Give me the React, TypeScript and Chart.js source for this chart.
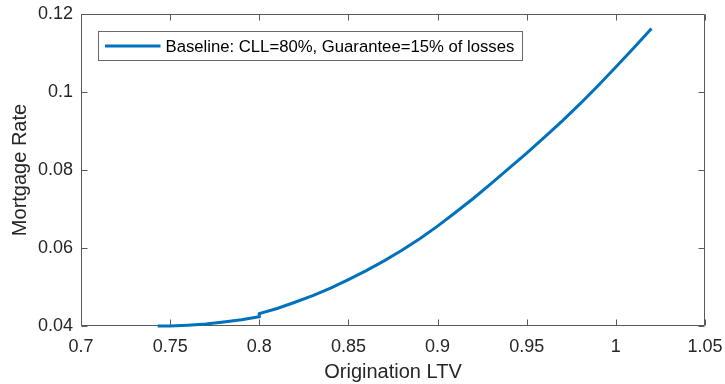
import React, { useEffect, useRef } from 'react';
import { Chart, registerables } from 'chart.js';

Chart.register(...registerables);

const seriesLabel = 'Baseline: CLL=80%, Guarantee=15% of losses';
const ltv = [0.743, 0.75, 0.76, 0.77, 0.78, 0.79, 0.8, 0.8, 0.81, 0.82, 0.83, 0.84, 0.85, 0.86, 0.87, 0.88, 0.89, 0.9, 0.91, 0.92, 0.93, 0.94, 0.95, 0.96, 0.97, 0.98, 0.99, 1.0, 1.01, 1.02];
const rate = [0.04, 0.04, 0.0402, 0.0405, 0.041, 0.0416, 0.0424, 0.0432, 0.0445, 0.0461, 0.0478, 0.0497, 0.0519, 0.0542, 0.0567, 0.0594, 0.0624, 0.0656, 0.0691, 0.0727, 0.0765, 0.0804, 0.0843, 0.0884, 0.0926, 0.097, 0.1016, 0.1064, 0.1113, 0.1163];
const xTicks = [0.7, 0.75, 0.8, 0.85, 0.9, 0.95, 1, 1.05];
const xTickLabels = ['0.7', '0.75', '0.8', '0.85', '0.9', '0.95', '1', '1.05'];
const yTicks = [0.04, 0.06, 0.08, 0.1, 0.12];
const yTickLabels = ['0.04', '0.06', '0.08', '0.1', '0.12'];
const xTitle = 'Origination LTV';
const yTitle = 'Mortgage Rate';

const FONT = "'Liberation Sans', Arial, Helvetica, sans-serif";
const AXIS_COLOR = '#262626';
const FRAME_COLOR = '#5a5a5a';
const LINE_COLOR = '#0072BD';

const framePlugin = {
  id: 'matlabFrame',
  beforeDatasetsDraw(chart: any) {
    const { ctx, chartArea } = chart;
    const { left, right, top, bottom } = chartArea;
    const xs = chart.scales.x;
    const ys = chart.scales.y;
    const tl = 6;
    ctx.save();
    ctx.strokeStyle = FRAME_COLOR;
    ctx.lineWidth = 1;
    ctx.beginPath();
    const L = Math.round(left) + 0.5;
    const R = Math.round(right) - 0.5;
    const T = Math.round(top) + 0.5;
    const B = Math.round(bottom) - 0.5;
    ctx.rect(L, T, R - L, B - T);
    xTicks.forEach((v) => {
      const px = Math.round(xs.getPixelForValue(v)) + 0.5;
      ctx.moveTo(px, B);
      ctx.lineTo(px, B - tl);
      ctx.moveTo(px, T);
      ctx.lineTo(px, T + tl);
    });
    yTicks.forEach((v) => {
      const py = Math.round(ys.getPixelForValue(v)) + 0.5;
      ctx.moveTo(L, py);
      ctx.lineTo(L + tl, py);
      ctx.moveTo(R, py);
      ctx.lineTo(R - tl, py);
    });
    ctx.stroke();
    ctx.restore();
  },
};

const legendPlugin = {
  id: 'insideLegend',
  afterDatasetsDraw(chart: any) {
    const { ctx, chartArea } = chart;
    const ds = chart.data.datasets[0];
    const bx = Math.round(chartArea.left + 17) + 0.5;
    const by = Math.round(chartArea.top + 17) + 0.5;
    const bw = 424;
    const bh = 29;
    ctx.save();
    ctx.fillStyle = '#ffffff';
    ctx.fillRect(bx, by, bw, bh);
    ctx.strokeStyle = '#6a6a6a';
    ctx.lineWidth = 1;
    ctx.strokeRect(bx, by, bw, bh);
    const cy = by + bh / 2;
    ctx.strokeStyle = ds.borderColor;
    ctx.lineWidth = 3;
    ctx.beginPath();
    ctx.moveTo(bx + 6.5, cy);
    ctx.lineTo(bx + 62, cy);
    ctx.stroke();
    ctx.fillStyle = '#000000';
    ctx.font = `16.7px ${FONT}`;
    ctx.textBaseline = 'middle';
    ctx.textAlign = 'left';
    ctx.fillText(ds.label, bx + 67, cy + 1);
    ctx.restore();
  },
};

export default function App() {
  const ref = useRef<HTMLCanvasElement | null>(null);

  useEffect(() => {
    if (!ref.current) return;
    const points = ltv.map((x, i) => ({ x, y: rate[i] }));
    const chart = new Chart(ref.current, {
      type: 'line',
      data: {
        datasets: [
          {
            label: seriesLabel,
            data: points,
            borderColor: LINE_COLOR,
            backgroundColor: LINE_COLOR,
            borderWidth: 3,
            pointRadius: 0,
            tension: 0,
            fill: false,
            clip: false as any,
          },
        ],
      },
      options: {
        responsive: false,
        animation: false,
        devicePixelRatio: 1,
        layout: { padding: { left: 0, top: 14, right: 20, bottom: 0 } },
        plugins: {
          legend: { display: false },
          tooltip: { enabled: false },
        },
        scales: {
          x: {
            type: 'linear',
            min: 0.7,
            max: 1.05,
            grid: { display: false, drawTicks: false },
            border: { display: false },
            afterBuildTicks: (scale: any) => {
              scale.ticks = xTicks.map((v) => ({ value: v }));
            },
            afterFit: (scale: any) => {
              scale.height = 58;
              scale.paddingLeft = 0;
              scale.paddingRight = 0;
            },
            ticks: {
              autoSkip: false,
              maxRotation: 0,
              padding: 10,
              color: AXIS_COLOR,
              font: { family: FONT, size: 18 },
              callback: (_v: any, i: number) => xTickLabels[i],
            },
            title: {
              display: true,
              text: xTitle,
              color: AXIS_COLOR,
              font: { family: FONT, size: 20 },
              padding: { top: 0, bottom: 0 },
            },
          },
          y: {
            type: 'linear',
            min: 0.04,
            max: 0.12,
            grid: { display: false, drawTicks: false },
            border: { display: false },
            afterBuildTicks: (scale: any) => {
              scale.ticks = yTicks.map((v) => ({ value: v }));
            },
            afterFit: (scale: any) => {
              scale.width = 81;
              scale.paddingTop = 0;
              scale.paddingBottom = 0;
            },
            ticks: {
              autoSkip: false,
              padding: 8,
              color: AXIS_COLOR,
              font: { family: FONT, size: 18 },
              callback: (_v: any, i: number) => yTickLabels[i],
            },
            title: {
              display: true,
              text: yTitle,
              color: AXIS_COLOR,
              font: { family: FONT, size: 20 },
              padding: { top: 8, bottom: 0 },
            },
          },
        },
      },
      plugins: [framePlugin, legendPlugin],
    });
    return () => chart.destroy();
  }, []);

  return (
    <div style={{ position: 'fixed', left: 0, top: 0, width: 725, height: 384, background: '#ffffff' }}>
      <canvas ref={ref} width={725} height={384} style={{ width: 725, height: 384, display: 'block' }} />
    </div>
  );
}
